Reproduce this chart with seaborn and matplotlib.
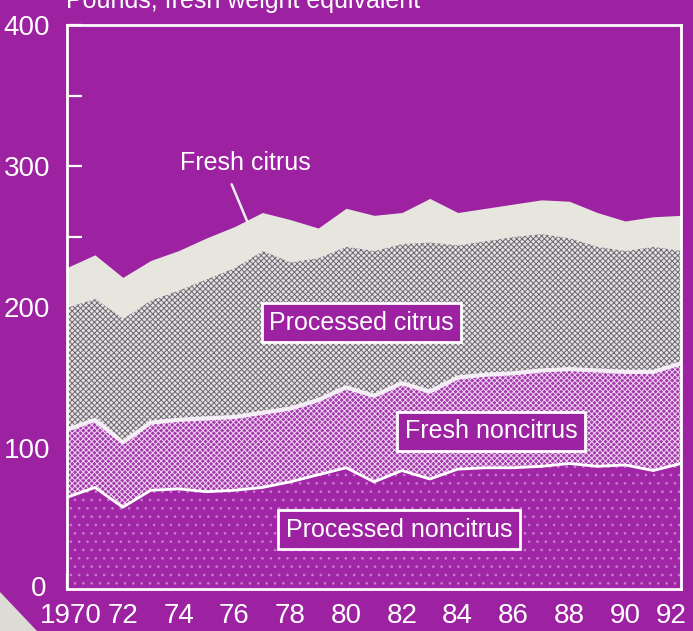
import matplotlib
matplotlib.use('Agg')
import numpy as np
import pandas as pd
import matplotlib.pyplot as plt
import seaborn as sns
from matplotlib.patches import Polygon
from matplotlib.ticker import FixedLocator
from matplotlib.transforms import ScaledTranslation

# Per-capita fruit consumption, pounds fresh weight equivalent
years = list(range(1970, 1993))
processed_noncitrus = [65, 72, 58, 70, 71, 69, 70, 72, 76, 81, 86, 76, 84, 78, 85, 86, 86, 87, 89, 87, 88, 84, 89]
fresh_noncitrus = [48, 48, 46, 48, 49, 52, 52, 53, 52, 53, 57, 61, 62, 62, 65, 66, 67, 68, 67, 68, 66, 70, 71]
processed_citrus = [87, 86, 88, 87, 92, 99, 106, 115, 104, 101, 100, 103, 99, 106, 94, 95, 97, 97, 93, 88, 86, 89, 80]
fresh_citrus = [28, 31, 29, 28, 28, 29, 29, 27, 30, 21, 27, 25, 22, 31, 23, 23, 23, 24, 26, 24, 21, 21, 25]

x_tick_years = list(range(1970, 1993, 2))
x_tick_labels = ['1970'] + [str(y)[2:] for y in x_tick_years[1:]]
y_tick_values = [0, 100, 200, 300, 400]

purple = '#9c22a2'

sns.set_theme(style='ticks')
plt.rcParams['font.family'] = ['Liberation Sans', 'DejaVu Sans']
plt.rcParams['hatch.linewidth'] = 0.7

df = pd.DataFrame({
    'year': years,
    'processed_noncitrus': processed_noncitrus,
    'fresh_noncitrus': fresh_noncitrus,
    'processed_citrus': processed_citrus,
    'fresh_citrus': fresh_citrus,
})
# stacked boundaries
df['pn_top'] = df['processed_noncitrus']
df['fn_top'] = df['pn_top'] + df['fresh_noncitrus']
df['pc_top'] = df['fn_top'] + df['processed_citrus']
df['total'] = df['pc_top'] + df['fresh_citrus']

fig = plt.figure(figsize=(6.93, 6.31), dpi=100, facecolor=purple)
ax = fig.add_axes([67 / 693, 1 - 589 / 631, (681 - 67) / 693, (589 - 25) / 631])
ax.set_facecolor(purple)

# stacked areas, bottom to top
ax.fill_between(df['year'], 0, df['pn_top'], facecolor='#a026a6',
                edgecolor='#c77ccd', hatch='..', linewidth=0, zorder=1)
ax.fill_between(df['year'], df['pn_top'], df['fn_top'], facecolor='#a43aab',
                edgecolor='#f0d6f2', hatch='xxxxxx', linewidth=0, zorder=1)
ax.fill_between(df['year'], df['fn_top'], df['pc_top'], facecolor='#e4e1e4',
                edgecolor='#6e686e', hatch='xxxxxx', linewidth=0, zorder=1)
ax.fill_between(df['year'], df['pc_top'], df['total'], facecolor='#e6e6de',
                linewidth=0, zorder=1)

# white boundary lines
sns.lineplot(data=df, x='year', y='pn_top', color='white', linewidth=2, ax=ax, zorder=3)
sns.lineplot(data=df, x='year', y='fn_top', color='#f6eef6', linewidth=3, ax=ax, zorder=3)

ax.set_xlim(1970, 1992)
ax.set_ylim(0, 400)
ax.set_xlabel('')
ax.set_ylabel('')

ax.set_xticks(x_tick_years)
ax.set_xticklabels(x_tick_labels)
ax.xaxis.set_minor_locator(FixedLocator([y for y in years if y % 2 == 1]))
ax.set_yticks(y_tick_values)
ax.yaxis.set_minor_locator(FixedLocator([50, 150, 250, 350]))

ax.tick_params(axis='both', which='both', direction='in', color='white', width=1.6,
               length=11, labelcolor='white', labelsize=20)
ax.tick_params(axis='x', which='major', pad=10)
ax.tick_params(axis='y', which='major', pad=12)

# nudge end labels like the original
xlabels = ax.get_xticklabels()
xlabels[0].set_transform(xlabels[0].get_transform() + ScaledTranslation(4 / 100, 0, fig.dpi_scale_trans))
xlabels[-1].set_transform(xlabels[-1].get_transform() + ScaledTranslation(-10 / 100, 0, fig.dpi_scale_trans))
ylabels = ax.get_yticklabels()
ylabels[0].set_transform(ylabels[0].get_transform() + ScaledTranslation(-4 / 100, 3 / 100, fig.dpi_scale_trans))

for side in ['left', 'right', 'top', 'bottom']:
    ax.spines[side].set_color('white')
    ax.spines[side].set_linewidth(2)
    ax.spines[side].set_zorder(4)

# labels
box = dict(boxstyle='square,pad=0.3', facecolor=purple, edgecolor='white', linewidth=2)
ax.text(1980.55, 189, 'Processed citrus', color='white', fontsize=18,
        ha='center', va='center', bbox=box, zorder=5)
ax.text(1985.2, 112, 'Fresh noncitrus', color='white', fontsize=18,
        ha='center', va='center', bbox=box, zorder=5)
ax.text(1981.9, 42, 'Processed noncitrus', color='white', fontsize=18,
        ha='center', va='center', bbox=box, zorder=5)
ax.text(1976.4, 302, 'Fresh citrus', color='white', fontsize=18,
        ha='center', va='center', zorder=5)
ax.plot([1975.9, 1976.45], [287, 261], color='#eeeeee', linewidth=1.8, zorder=5)

fig.text(66 / 693, 1 - 8 / 631, 'Pounds, fresh weight equivalent', color='white',
         fontsize=18, ha='left', va='baseline')

# page corner decoration
fig.patches.append(Polygon([(0, 1 - 592 / 631), (37 / 693, 0), (0, 0)],
                           closed=True, facecolor='#dcdcd4', edgecolor='none',
                           transform=fig.transFigure, figure=fig))

fig.savefig('out.png', dpi=100, facecolor=purple)
